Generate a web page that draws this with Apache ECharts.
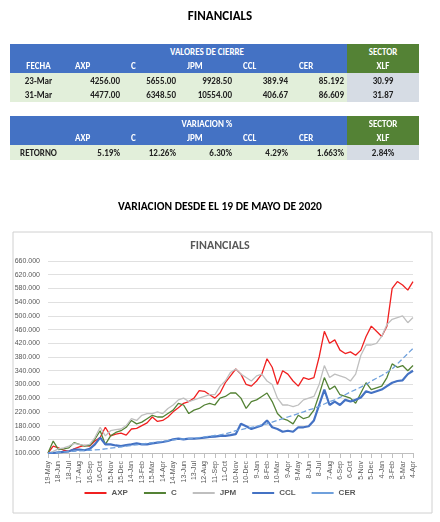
<!DOCTYPE html>
<html><head><meta charset="utf-8">
<script src="https://cdn.jsdelivr.net/npm/echarts@6/dist/echarts.min.js"></script>
<style>
body{margin:0;width:440px;height:522px;position:relative;font-family:Calibri,"Liberation Sans",Arial,sans-serif;background:#fff;overflow:hidden}
#c{position:absolute;left:0;top:0;width:440px;height:522px}
.t{position:absolute;left:10px;border-collapse:collapse;font-size:9px;font-weight:bold;table-layout:fixed}
.t td{height:14.5px;padding:0 3px;white-space:nowrap;overflow:hidden}
.h td{background:#4472c4;color:#fff;text-align:center}
.h td.g{background:#548235}
.d td{background:#e2efda;color:#222;text-align:right}
.d td.f{text-align:center}
.d td.x{background:#d6dce4;text-align:center}
.ttl{position:absolute;width:440px;text-align:center;font-weight:bold;color:#000}
</style></head><body>
<div id="c"></div>
<div class="ttl" style="top:8px;font-size:13px">FINANCIALS</div>
<div class="ttl" style="top:199px;font-size:11.5px">VARIACION DESDE EL 19 DE MAYO DE 2020</div>
<table class="t" style="top:44px" id="t1"></table>
<table class="t" style="top:116px" id="t2"></table>
<script>
var tickers=['AXP','C','JPM','CCL','CER'];
var dates=['23-Mar','31-Mar'];
var closeA=[[4256.00,5655.00,9928.50,389.94,85.192],[4477.00,6348.50,10554.00,406.67,86.609]];
var xlfClose=['30.99','31.87'];
var retorno=['5.19%','12.26%','6.30%','4.29%','1.663%'];
var xlfRet='2.84%';
var W=[57,56,56,56,56,56,72];
function cols(){return '<colgroup>'+W.map(function(w){return '<col style="width:'+w+'px">';}).join('')+'</colgroup>';}
var fmt=function(v,i){return i==4?v.toFixed(3):v.toFixed(2);};
var h1=cols()+'<tr class="h"><td></td><td colspan="5">VALORES DE CIERRE</td><td class="g">SECTOR</td></tr>'+
 '<tr class="h"><td>FECHA</td>'+tickers.map(function(t){return '<td style="text-align:left;padding-left:8px">'+t+'</td>';}).join('')+'<td class="g">XLF</td></tr>';
dates.forEach(function(d,r){h1+='<tr class="d"><td class="f">'+d+'</td>'+closeA[r].map(function(v,i){return '<td>'+fmt(v,i)+'</td>';}).join('')+'<td class="x">'+xlfClose[r]+'</td></tr>';});
document.getElementById('t1').innerHTML=h1;
var h2=cols()+'<tr class="h"><td></td><td colspan="5">VARIACION %</td><td class="g">SECTOR</td></tr>'+
 '<tr class="h"><td></td>'+tickers.map(function(t){return '<td style="text-align:left;padding-left:8px">'+t+'</td>';}).join('')+'<td class="g">XLF</td></tr>'+
 '<tr class="d"><td class="f">RETORNO</td>'+retorno.map(function(v){return '<td>'+v+'</td>';}).join('')+'<td class="x">'+xlfRet+'</td></tr>';
document.getElementById('t2').innerHTML=h2;

// series values every 15 days starting 19-May-2020
var axp=[100,120,115,108,105,112,118,122,120,135,145,175,150,155,158,152,170,172,180,188,205,192,195,205,220,232,245,250,260,282,280,270,260,275,305,325,345,330,300,295,310,330,375,350,300,340,330,310,295,320,315,320,380,455,420,430,400,390,395,385,400,440,470,455,440,470,580,600,590,575,600];
var cc=[100,135,110,112,115,130,125,120,122,140,165,125,150,160,165,175,195,185,190,200,210,205,205,215,225,245,240,215,225,230,240,245,240,260,265,275,275,260,230,250,255,265,275,250,215,200,195,185,210,200,205,225,270,320,285,295,270,265,260,245,275,305,285,290,295,320,360,350,355,340,355];
var jpm=[100,105,112,115,120,128,125,122,125,145,175,150,165,168,170,180,200,195,210,215,215,220,215,230,240,255,260,250,255,260,265,270,270,295,310,335,345,330,320,310,325,330,310,300,260,240,240,235,240,255,260,265,300,355,320,330,325,320,310,330,385,415,415,420,440,475,490,495,500,480,495];
var ccl=[100,100,102,103,105,110,110,108,112,125,145,125,125,122,120,123,125,128,125,125,128,130,132,135,140,142,140,142,142,143,145,147,148,150,150,152,155,185,178,170,175,180,195,175,170,162,165,162,175,175,178,195,240,285,240,250,240,255,250,255,262,280,275,280,285,295,305,310,312,330,340];
var cer=[100,101,102,103,104,105,106,107,108,109,110,112,114,116,118,120,122,124,126,128,130,132,134,136,138,140,141,142,143,145,147,149,151,153,156,160,165,168,172,175,178,182,185,190,195,200,205,210,215,220,226,230,236,243,250,255,262,270,278,285,292,300,310,318,326,335,345,360,375,390,405];
var xlabels=['19-May','18-Jun','18-Jul','17-Aug','16-Sep','16-Oct','15-Nov','15-Dec','14-Jan','13-Feb','15-Mar','14-Apr','14-May','13-Jun','13-Jul','12-Aug','11-Sep','11-Oct','10-Nov','10-Dec','9-Jan','8-Feb','10-Mar','9-Apr','9-May','8-Jun','8-Jul','7-Aug','6-Sep','6-Oct','5-Nov','5-Dec','4-Jan','3-Feb','5-Mar','4-Apr'];
function pts(a){return a.map(function(v,i){return [i*15,v];});}
var chart=echarts.init(document.getElementById('c'));
function ser(n,d,c,w,dash){return {name:n,type:'line',data:pts(d),symbol:'none',lineStyle:{color:c,width:w,type:dash||'solid'},itemStyle:{color:c}};}
chart.setOption({
 animation:false,
 graphic:[{type:'rect',shape:{x:13,y:232,width:419,height:281},style:{fill:'none',stroke:'#d0d0d0',lineWidth:1},silent:true},
  {type:'text',left:'center',top:240,style:{text:'FINANCIALS',font:'bold 12px Calibri, "Liberation Sans", Arial',fill:'#595959'}}],
 grid:{left:48,right:27,top:261,bottom:69},
 legend:{bottom:20,left:'center',itemWidth:22,itemHeight:6,itemGap:16,textStyle:{fontSize:8,fontWeight:'bold',color:'#595959'},
   data:['AXP','C','JPM','CCL','CER'].map(function(n){return {name:n,icon:'path://M0,0H22V2H0Z'};})},
 xAxis:{type:'value',min:0,max:1050,interval:30,
   axisLine:{lineStyle:{color:'#bfbfbf'}},axisTick:{show:true,lineStyle:{color:'#bfbfbf'}},splitLine:{show:false},
   axisLabel:{rotate:90,fontSize:7,color:'#595959',formatter:function(v){return xlabels[Math.round(v/30)]||'';}}},
 yAxis:{type:'value',min:100,max:660,interval:40,
   axisLine:{show:false},axisTick:{show:false},splitLine:{lineStyle:{color:'#e0e0e0'}},
   axisLabel:{fontSize:7,color:'#595959',formatter:function(v){return v.toFixed(3);}}},
 series:[ser('AXP',axp,'#f02020',1.3),ser('C',cc,'#548235',1.3),ser('JPM',jpm,'#bfbfbf',1.3),ser('CCL',ccl,'#4472c4',2.2),ser('CER',cer,'#6fa0dc',1.3,'dashed')]
});
</script></body></html>
